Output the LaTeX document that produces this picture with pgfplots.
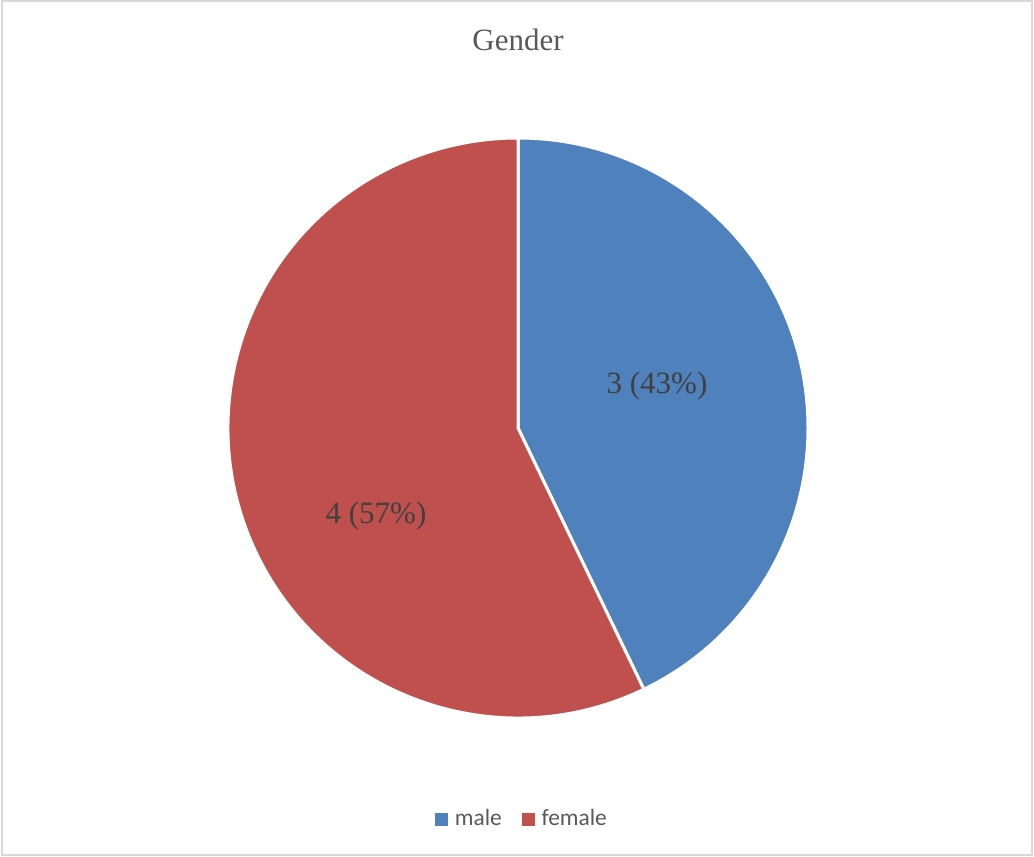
\documentclass[border=0pt]{standalone}
\usepackage{pgfplots}
\usepackage{pgfplotstable}
\pgfplotsset{compat=1.18}
\usepackage{fontspec}
\setmainfont{Liberation Serif}
\newfontfamily\carlito{Carlito}
\definecolor{malecol}{HTML}{4F81BD}
\definecolor{femalecol}{HTML}{C0504D}
\definecolor{titlegray}{HTML}{595959}
\definecolor{labelgray}{HTML}{404040}
\definecolor{bordergray}{HTML}{D9D9D9}

\pgfplotstableread{
label value
male 3
female 4
}\piedata
\pgfplotstablegetelem{0}{value}\of\piedata \edef\vmale{\pgfplotsretval}
\pgfplotstablegetelem{1}{value}\of\piedata \edef\vfemale{\pgfplotsretval}
\pgfmathsetmacro\total{\vmale+\vfemale}
\pgfmathsetmacro\amale{90-360*\vmale/\total}
\pgfmathsetmacro\afemale{\amale-360*\vfemale/\total}

\begin{document}
\begin{tikzpicture}
\begin{axis}[
  scale only axis, width=517pt, height=428.5pt,
  xmin=0, xmax=1034, ymin=0, ymax=857,
  hide axis, clip=false,
  legend columns=2,
  legend style={at={(523/1034,38/857)}, anchor=center, draw=none, fill=none,
    inner sep=0pt, font=\carlito\fontsize{11.7}{13}\selectfont, text=titlegray,
    legend cell align=left,
    /tikz/every odd column/.append style={column sep=1.5pt},
    /tikz/every even column/.append style={column sep=8pt},
    nodes={inner sep=2pt}},
]
\path (axis cs:0,0) rectangle (axis cs:1034,857);
\draw[bordergray, line width=1pt] (axis cs:2,2) rectangle (axis cs:1032,856);
\filldraw[fill=malecol, draw=white, line width=1.5pt, line join=round]
  (axis cs:518,429) -- ++(90:145pt) arc[start angle=90, end angle=\amale, radius=145pt] -- cycle;
\filldraw[fill=femalecol, draw=white, line width=1.5pt, line join=round]
  (axis cs:518,429) -- ++(\amale:145pt) arc[start angle=\amale, end angle=\afemale, radius=145pt] -- cycle;
\node[anchor=base, font=\fontsize{15.5}{18}\selectfont, text=titlegray] at (axis cs:518,806) {Gender};
\node[anchor=base, font=\fontsize{15.5}{18}\selectfont, text=labelgray] at (axis cs:657,463) {3 (43\%)};
\node[anchor=base, font=\fontsize{15.5}{18}\selectfont, text=labelgray] at (axis cs:376,333) {4 (57\%)};
\addlegendimage{legend image code/.code={\fill[malecol] (0pt,-3pt) rectangle (6pt,3pt);}}
\addlegendentry{male}
\addlegendimage{legend image code/.code={\fill[femalecol] (0pt,-3pt) rectangle (6pt,3pt);}}
\addlegendentry{female}
\end{axis}
\end{tikzpicture}
\end{document}
